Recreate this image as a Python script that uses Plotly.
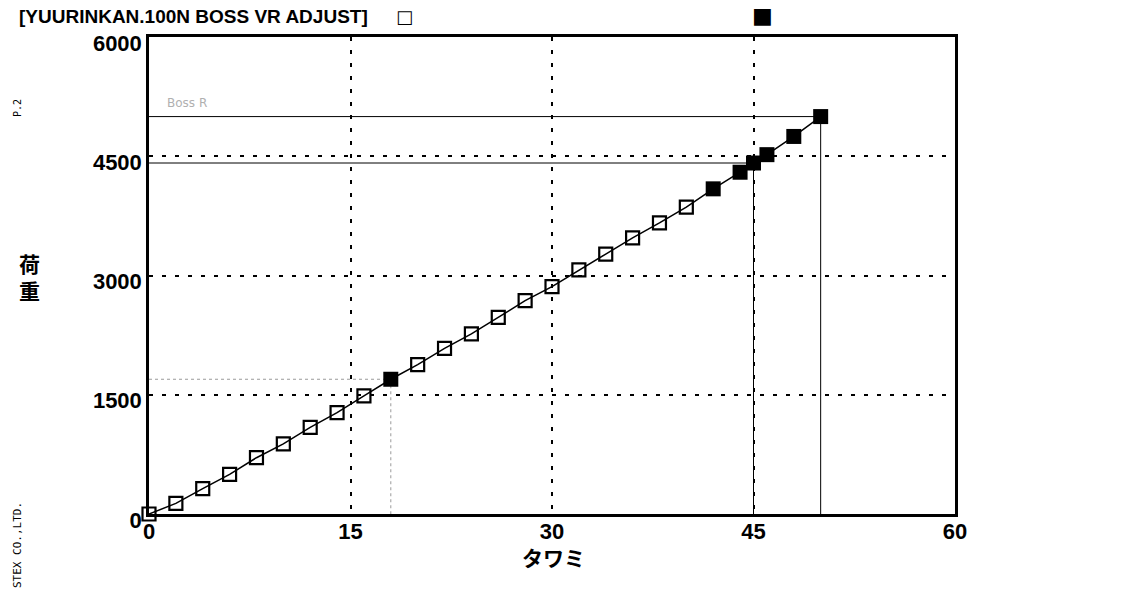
import plotly.graph_objects as go

# ---- data ----
x_open = [0, 2, 4, 6, 8, 10, 12, 14, 16, 20, 22, 24, 26, 28, 30, 32, 34, 36, 38, 40]
y_open = [0, 133, 320, 499, 708, 883, 1090, 1274, 1486, 1878, 2083, 2265, 2474,
          2683, 2861, 3070, 3270, 3474, 3661, 3861]
x_filled = [18, 42, 44, 45, 46, 48, 50]
y_filled = [1695, 4090, 4299, 4415, 4520, 4749, 4999]
marked_x = [18, 45, 50]          # filled points carrying drop lines
x_ticks = [0, 15, 30, 45, 60]
y_ticks = [0, 1500, 3000, 4500, 6000]
title_text = "[YUURINKAN.100N BOSS VR ADJUST]"
x_title = "タワミ"
y_title = "荷重"

W, H = 1134, 597
L, R, T, B = 149, 955, 37, 514

def px(xp):
    return (xp - L) / (R - L)

def py(yp):
    return (B - yp) / (B - T)

SANS = "Liberation Sans, Arial, sans-serif"
CJK = "Noto Sans CJK JP, sans-serif"

fig = go.Figure()

# connecting line through all points
pts = sorted(zip(x_open + x_filled, y_open + y_filled))
fig.add_trace(go.Scatter(x=[p[0] for p in pts], y=[p[1] for p in pts], mode="lines",
                         line=dict(color="black", width=1.5), showlegend=False,
                         hoverinfo="skip", cliponaxis=False))

# drop lines for marked points
filled_map = dict(zip(x_filled, y_filled))
for mx in marked_x:
    my = filled_map[mx]
    faint = mx < 30
    col = "#9a9a9a" if faint else "black"
    fig.add_trace(go.Scatter(x=[0, mx], y=[my, my], mode="lines",
                             line=dict(color=col, width=1, dash="dot" if faint else "solid"),
                             showlegend=False, hoverinfo="skip"))
    fig.add_trace(go.Scatter(x=[mx, mx], y=[my, 0], mode="lines",
                             line=dict(color=col, width=1, dash="dot" if faint else "solid"),
                             showlegend=False, hoverinfo="skip"))

fig.add_trace(go.Scatter(x=x_open, y=y_open, mode="markers",
                         marker=dict(symbol="square-open", size=13, color="black",
                                     line=dict(color="black", width=2.2)),
                         showlegend=False, cliponaxis=False))
fig.add_trace(go.Scatter(x=x_filled, y=y_filled, mode="markers",
                         marker=dict(symbol="square", size=15, color="black",
                                     line=dict(width=0)),
                         showlegend=False, cliponaxis=False))

tickfont = dict(family=SANS, size=22, color="black", weight="bold")
fig.update_xaxes(range=[0, 60], tickvals=x_ticks, ticktext=[str(v) for v in x_ticks],
                 showgrid=True, gridcolor="black", gridwidth=2, griddash="4px,9px",
                 showline=True, linecolor="black", linewidth=2.5, mirror=True,
                 zeroline=False, ticks="", tickfont=tickfont, ticklabelstandoff=-4)
fig.update_yaxes(range=[0, 6000], tickvals=y_ticks, ticktext=[str(v) for v in y_ticks],
                 showgrid=True, gridcolor="black", gridwidth=2, griddash="4px,9px",
                 showline=True, linecolor="black", linewidth=2.5, mirror=True,
                 zeroline=False, ticks="", tickfont=tickfont, ticklabelstandoff=0,
                 ticklabelshift=6)

ann = []
ann.append(dict(text=title_text, x=px(17), y=py(17), xref="paper", yref="paper",
                xanchor="left", yanchor="middle", showarrow=False,
                font=dict(family=SANS, size=19, color="black", weight="bold")))
ann.append(dict(text="□", x=px(404), y=py(17), xref="paper", yref="paper",
                xanchor="center", yanchor="middle", showarrow=False,
                font=dict(family="DejaVu Sans", size=18, color="black")))
ann.append(dict(text="■", x=px(762), y=py(15), xref="paper", yref="paper",
                xanchor="center", yanchor="middle", showarrow=False,
                font=dict(family="DejaVu Sans", size=22, color="black")))
ann.append(dict(text=y_title[0] + "<br>" + y_title[1], x=px(29), y=py(276), xref="paper",
                yref="paper", xanchor="center", yanchor="middle", showarrow=False,
                font=dict(family=CJK, size=21, color="black", weight="bold")))
ann.append(dict(text=x_title, x=px(553), y=py(557), xref="paper", yref="paper",
                xanchor="center", yanchor="middle", showarrow=False,
                font=dict(family=CJK, size=21, color="black", weight="bold")))
ann.append(dict(text="P.2", x=px(17), y=py(108), xref="paper", yref="paper",
                xanchor="center", yanchor="middle", showarrow=False, textangle=-90,
                font=dict(family="DejaVu Sans Mono", size=10, color="black")))
ann.append(dict(text="STEX CO.,LTD.", x=px(17), y=py(545), xref="paper", yref="paper",
                xanchor="center", yanchor="middle", showarrow=False, textangle=-90,
                font=dict(family="DejaVu Sans Mono", size=11, color="black")))
ann.append(dict(text="Boss R", x=px(165), y=py(103), xref="paper", yref="paper",
                xanchor="left", yanchor="middle", showarrow=False,
                font=dict(family="DejaVu Sans", size=12, color="#b0b0b0")))

fig.update_layout(width=W, height=H, margin=dict(l=L, r=W - R, t=T, b=H - B),
                  paper_bgcolor="white", plot_bgcolor="white", showlegend=False,
                  annotations=ann)

fig.write_html("out.html", config={"displayModeBar": False},
               post_script="document.body.style.margin='0';document.body.style.padding='0';")
